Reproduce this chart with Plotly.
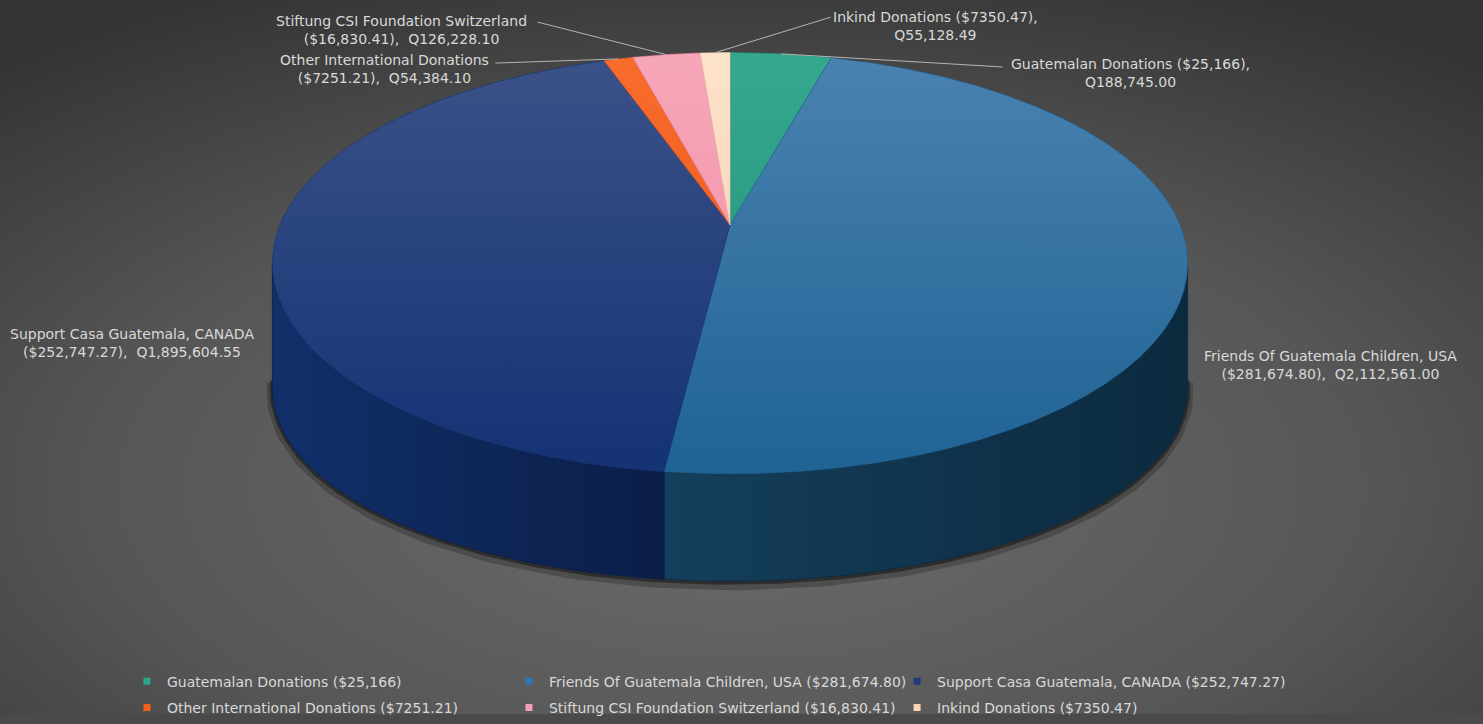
import base64
import numpy as np
import plotly.graph_objects as go

# ---------------- data ----------------
names = ["Guatemalan Donations", "Friends Of Guatemala Children, USA",
         "Support Casa Guatemala, CANADA", "Other International Donations",
         "Stiftung CSI Foundation Switzerland", "Inkind Donations"]
usd_values = [25166.00, 281674.80, 252747.27, 7251.21, 16830.41, 7350.47]
usd_labels = ["$25,166", "$281,674.80", "$252,747.27", "$7251.21", "$16,830.41", "$7350.47"]
gtq_labels = ["Q188,745.00", "Q2,112,561.00", "Q1,895,604.55", "Q54,384.10",
              "Q126,228.10", "Q55,128.49"]

# ---------------- styles ----------------
top_light = ["#36a88e", "#4a82b0", "#3b5288", "#f86c2c", "#f7a6b9", "#fde2cb"]
top_dark = ["#1f8e78", "#1f6394", "#143274", "#e4531b", "#ef8aa2", "#f8cdac"]
side_light = ["#1a6a58", "#143f5c", "#11306a", "#a83a10", "#b0607a", "#c0a080"]
side_dark = ["#114a3e", "#0c2a3e", "#0b1e48", "#7a2a0a", "#80465a", "#907860"]
legend_colors = ["#2ca58d", "#2e75b6", "#1f3b7a", "#f4611e", "#f5a0b5", "#fcd5b4"]
text_color = "#d9d9d9"
FONT = "DejaVu Sans"

# label placement (text furniture): centre of text block, line break style,
# start of leader line (None = no leader)
label_pos = [(1130, 74), (1330, 370), (132, 348), (384, 70), (401, 30), (935, 26)]
break_after_usd = [True, False, False, False, False, True]
leader_start = [(1004, 68), None, None, (494, 64), (536, 22), (832, 17)]
legend_col = ["legend", "legend2", "legend3", "legend", "legend2", "legend3"]

# ---------------- 3D pie geometry ----------------
CX, CY, RX, RY, K = 730.0, 228.0, 450.0, 206.5, 0.182
T_FRONT, T_SIDE = 109.0, 18.0


def proj(theta, z=0.0):
    X = np.sin(theta)
    Y = np.cos(theta)
    s = 1.0 / (1.0 + K * Y)
    thick = T_FRONT + T_SIDE * X * X
    return CX + RX * X * s, CY - RY * Y * s + thick * z


vals = np.array(usd_values, dtype=float)
frac = vals / vals.sum()
cum = np.concatenate([[0.0], np.cumsum(frac)])
ang = 2 * np.pi * cum
vis0 = np.arccos(-K)
vis1 = 2 * np.pi - vis0

fig = go.Figure()

# soft shadow under the front edge
tt = np.linspace(vis0 - 0.04, vis1 + 0.04, 200)
sx, sy = proj(tt, 1.0)
fig.add_trace(go.Scatter(x=sx, y=sy + 3, mode="lines",
                         line=dict(color="rgba(25,25,25,0.30)", width=12),
                         hoverinfo="skip", showlegend=False))
fig.add_trace(go.Scatter(x=sx, y=sy + 1, mode="lines",
                         line=dict(color="rgba(20,20,20,0.55)", width=5),
                         hoverinfo="skip", showlegend=False))

# side walls
for i in range(len(vals)):
    a, b = ang[i], ang[i + 1]
    wa, wb = max(a, vis0), min(b, vis1)
    if wa >= wb:
        continue
    t = np.linspace(wa, wb, max(4, int(200 * (wb - wa))))
    x1, y1 = proj(t, 0.0)
    x2, y2 = proj(t[::-1], 1.0)
    xs = np.concatenate([x1, x2, x1[:1]])
    ys = np.concatenate([y1, y2, y1[:1]])
    fig.add_trace(go.Scatter(
        x=xs, y=ys, mode="lines", fill="toself",
        line=dict(color=side_dark[i], width=0.8),
        fillgradient=dict(type="horizontal",
                          colorscale=[[0, side_light[i]], [1, side_dark[i]]],
                          start=float(xs.min()), stop=float(xs.max())),
        hoverinfo="skip", showlegend=False))

# top faces
for i in range(len(vals)):
    a, b = ang[i], ang[i + 1]
    t = np.linspace(a, b, max(4, int(200 * (b - a))))
    x1, y1 = proj(t, 0.0)
    xs = np.concatenate([[CX], x1, [CX]])
    ys = np.concatenate([[CY], y1, [CY]])
    fig.add_trace(go.Scatter(
        x=xs, y=ys, mode="lines", fill="toself",
        line=dict(color=top_dark[i], width=0.6),
        fillgradient=dict(type="vertical",
                          colorscale=[[0, top_light[i]], [1, top_dark[i]]],
                          start=55, stop=480),
        hoverinfo="skip", showlegend=False))

# legend entries
for i in range(len(vals)):
    fig.add_trace(go.Scatter(
        x=[None], y=[None], mode="markers",
        marker=dict(symbol="square", size=7, color=legend_colors[i]),
        name=f"{names[i]} ({usd_labels[i]})", showlegend=True,
        legend=legend_col[i], legendgroup=f"g{i}"))

# data labels and leader lines
annotations = []
for i in range(len(vals)):
    if break_after_usd[i]:
        txt = f"{names[i]} ({usd_labels[i]}),<br>{gtq_labels[i]}"
    else:
        txt = f"{names[i]}<br>({usd_labels[i]}),  {gtq_labels[i]}"
    lx, ly = label_pos[i]
    annotations.append(dict(
        x=lx, y=ly, xref="x", yref="y", text=txt, showarrow=False,
        align="center", font=dict(family=FONT, size=14, color=text_color)))
    if leader_start[i] is not None:
        mid = 0.5 * (ang[i] + ang[i + 1])
        px, py = proj(mid, 0.0)
        sx0, sy0 = leader_start[i]
        annotations.append(dict(
            x=float(px), y=float(py), xref="x", yref="y",
            ax=sx0, ay=sy0, axref="x", ayref="y",
            text="", showarrow=True, arrowhead=0, arrowwidth=1,
            arrowcolor="#b4b4b4", standoff=0, startstandoff=0))

# background radial gradient
svg = (
    '<svg xmlns="http://www.w3.org/2000/svg" width="1483" height="724" '
    'viewBox="0 0 1483 724" preserveAspectRatio="none">'
    '<defs><radialGradient id="g" cx="0.5" cy="0.68" r="0.78" fx="0.5" fy="0.68">'
    '<stop offset="0" stop-color="#6c6c6c"/>'
    '<stop offset="0.55" stop-color="#565656"/>'
    '<stop offset="1" stop-color="#333333"/>'
    '</radialGradient></defs>'
    '<rect width="1483" height="724" fill="url(#g)"/></svg>'
)
bg = "data:image/svg+xml;base64," + base64.b64encode(svg.encode()).decode()

legend_common = dict(orientation="v", xanchor="left", yanchor="top", y=0.0677,
                     itemwidth=30, tracegroupgap=5,
                     bgcolor="rgba(0,0,0,0)",
                     font=dict(family=FONT, size=14, color=text_color))

fig.update_layout(
    width=1483, height=724,
    margin=dict(l=0, r=0, t=0, b=0),
    paper_bgcolor="#4a4a4a", plot_bgcolor="rgba(0,0,0,0)",
    xaxis=dict(range=[0, 1483], visible=False, fixedrange=True),
    yaxis=dict(range=[724, 0], visible=False, fixedrange=True),
    images=[dict(source=bg, xref="paper", yref="paper", x=0, y=1,
                 sizex=1, sizey=1, sizing="stretch", layer="below")],
    annotations=annotations,
    showlegend=True,
    legend=dict(x=0.0856, **legend_common),
    legend2=dict(x=0.3432, **legend_common),
    legend3=dict(x=0.6049, **legend_common),
)

fig.write_html("out.html",
               config={"displayModeBar": False},
               post_script="document.body.style.margin='0px';"
                           "document.body.style.overflow='hidden';")
